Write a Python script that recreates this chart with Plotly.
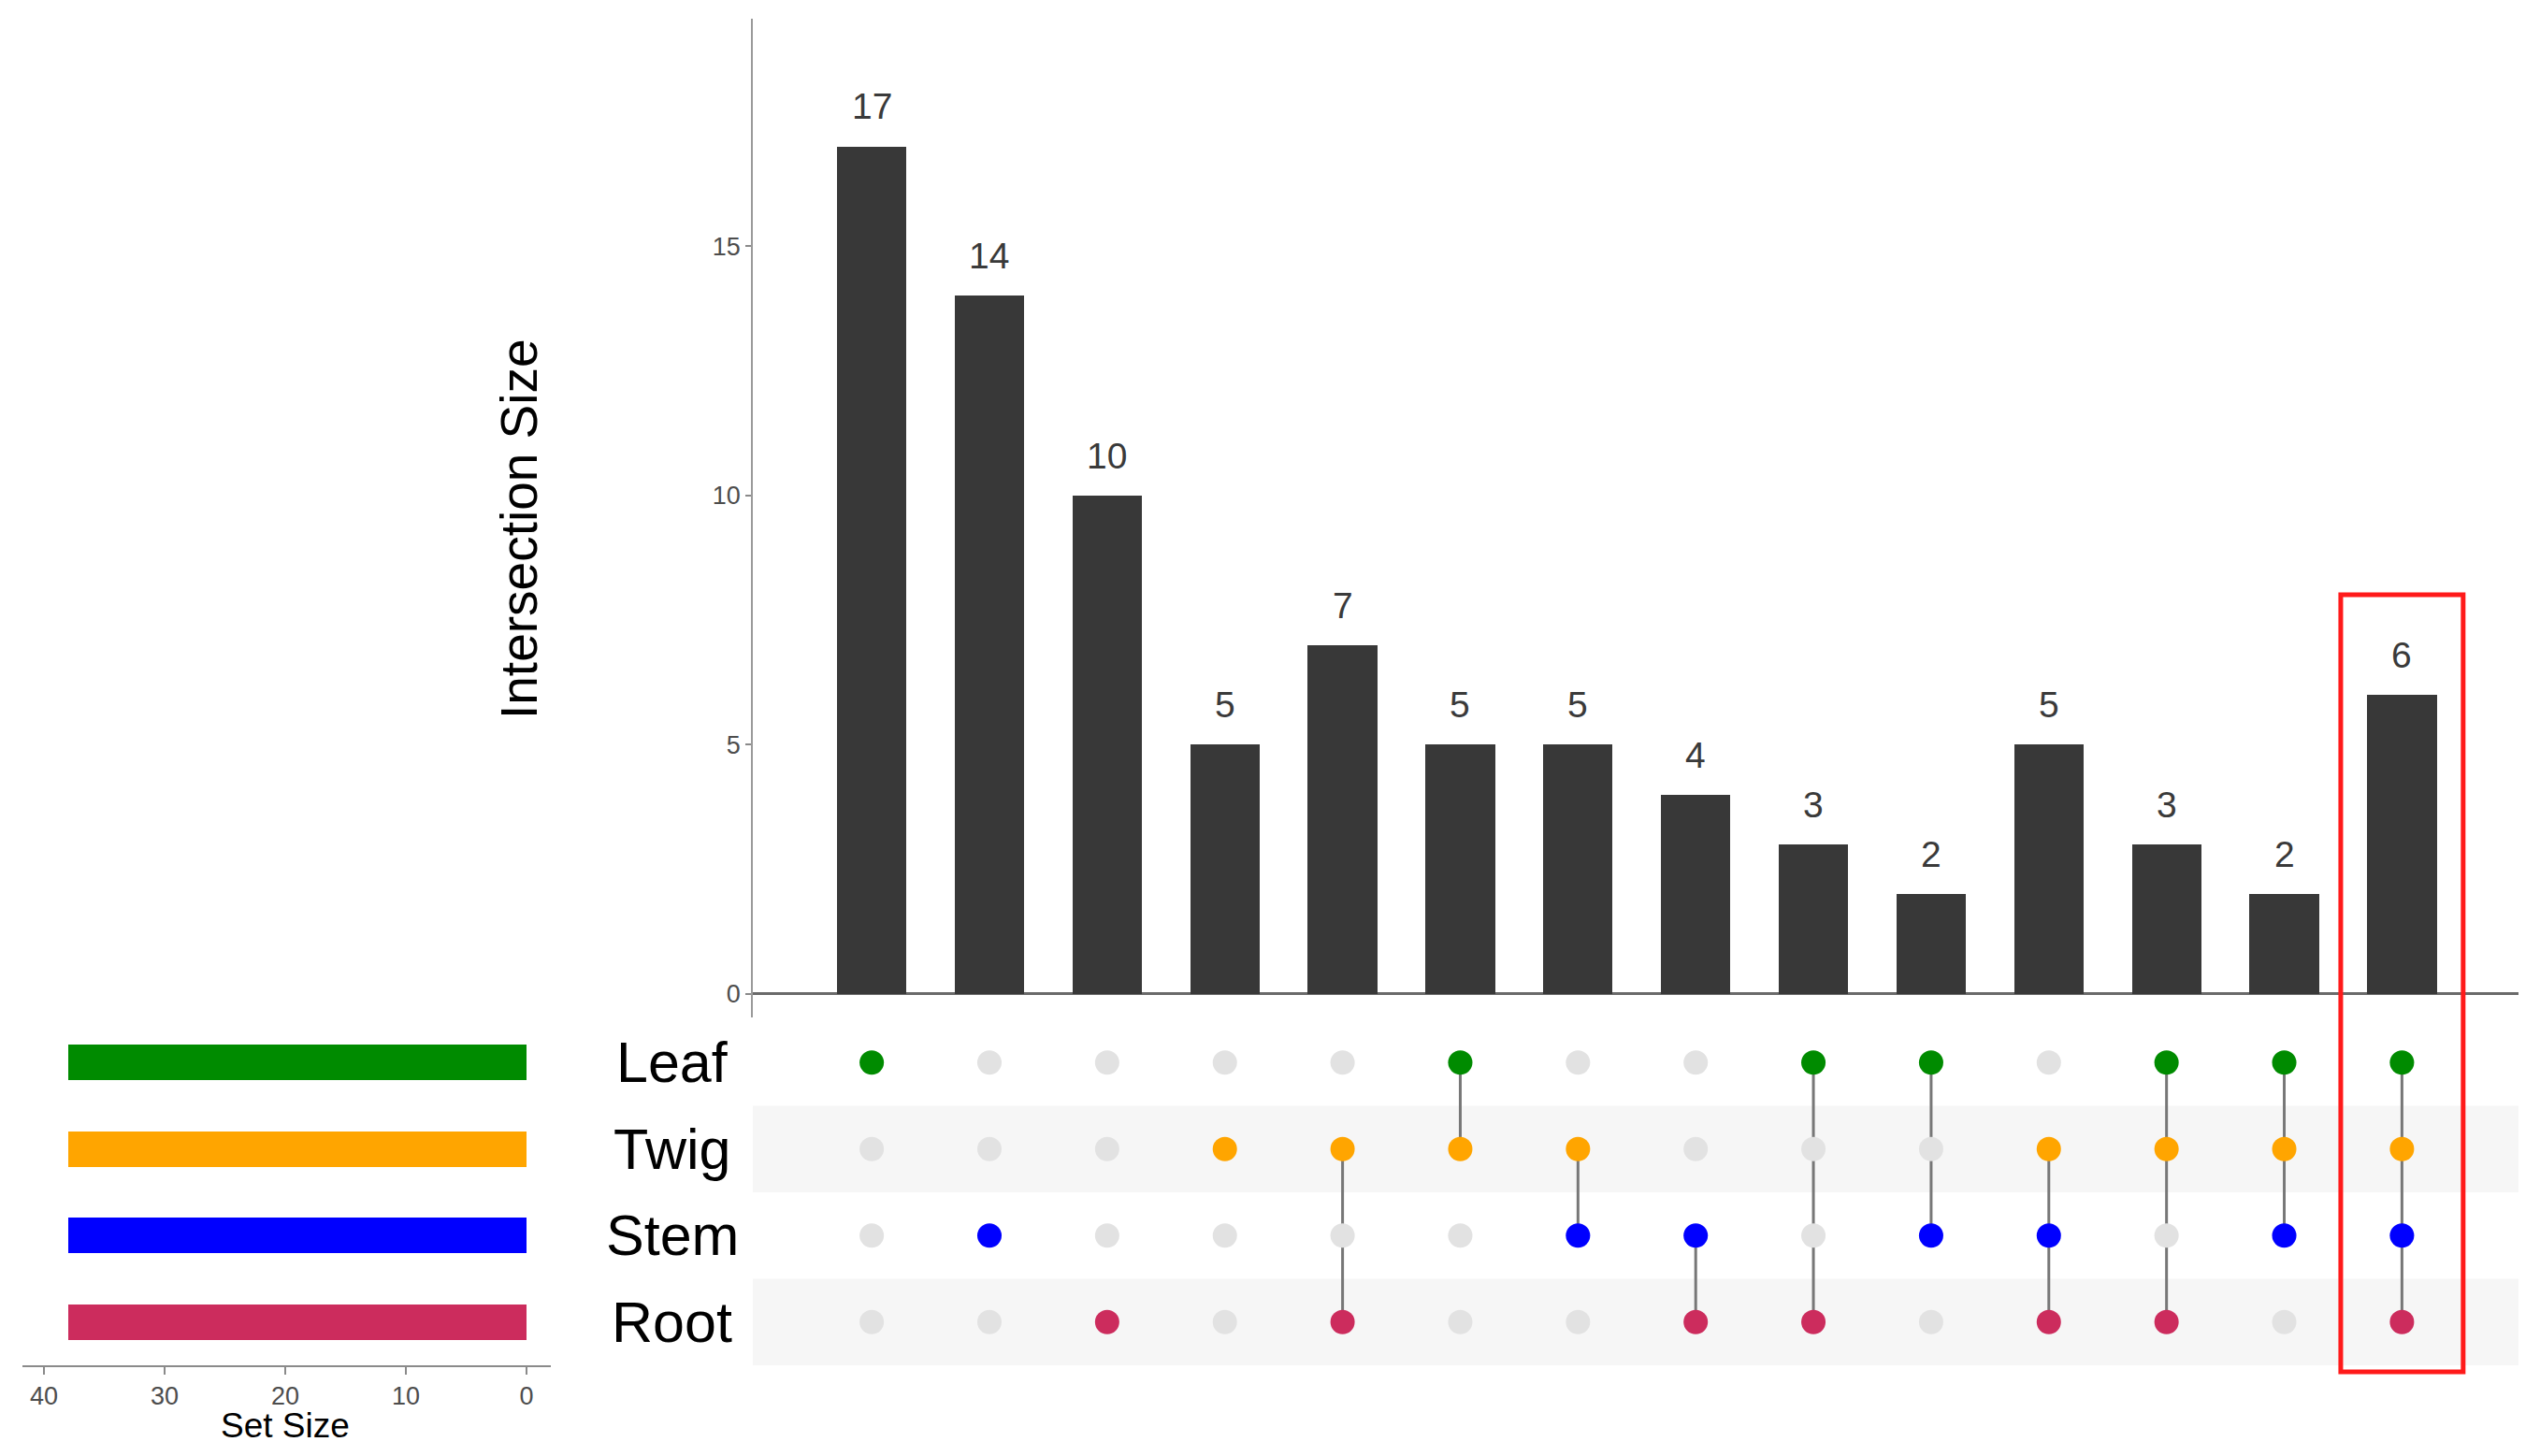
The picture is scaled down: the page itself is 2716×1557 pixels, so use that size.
import plotly.graph_objects as go

# ---------------- data ----------------
set_names = ["Leaf", "Twig", "Stem", "Root"]
set_colors = ["#008B00", "#FFA500", "#0000FF", "#CC2C5D"]
set_sizes = [38, 38, 38, 38]

intersection_sizes = [17, 14, 10, 5, 7, 5, 5, 4, 3, 2, 5, 3, 2, 6]
intersection_members = [
    ["Leaf"],
    ["Stem"],
    ["Root"],
    ["Twig"],
    ["Twig", "Root"],
    ["Leaf", "Twig"],
    ["Twig", "Stem"],
    ["Stem", "Root"],
    ["Leaf", "Root"],
    ["Leaf", "Stem"],
    ["Twig", "Stem", "Root"],
    ["Leaf", "Twig", "Root"],
    ["Leaf", "Twig", "Stem"],
    ["Leaf", "Twig", "Stem", "Root"],
]
highlight_index = 13

y_ticks = [0, 5, 10, 15]
set_ticks = [0, 10, 20, 30, 40]

# ---------------- geometry helpers ----------------
# page body has an 8px margin, so the figure is offset by 8px; compensate
OFF = 8
W, H = 2716 - 2 * OFF, 1557 - 2 * OFF
FONT = "Liberation Sans, Arial, sans-serif"
n = len(intersection_sizes)
cols = list(range(n))
row_of = {name: len(set_names) - 1 - k for k, name in enumerate(set_names)}  # Leaf on top


def px(x):
    return (x - OFF) / W


def py(y):
    return 1 - (y - OFF) / H


fig = go.Figure()

# ---- intersection bars ----
fig.add_trace(go.Bar(
    x=cols, y=intersection_sizes, width=0.59,
    marker=dict(color="#383838", line=dict(width=0)),
    xaxis="x", yaxis="y", showlegend=False, hoverinfo="x+y",
))

# ---- matrix connecting lines ----
lx, ly = [], []
for i, members in enumerate(intersection_members):
    if len(members) > 1:
        rows = [row_of[m] for m in members]
        lx += [i, i, None]
        ly += [min(rows), max(rows), None]
fig.add_trace(go.Scatter(
    x=lx, y=ly, mode="lines", line=dict(color="#777777", width=3),
    xaxis="x2", yaxis="y2", showlegend=False, hoverinfo="skip",
))

# ---- matrix dots ----
gx, gy, cx, cy, cc = [], [], [], [], []
for i, members in enumerate(intersection_members):
    for k, name in enumerate(set_names):
        if name in members:
            cx.append(i); cy.append(row_of[name]); cc.append(set_colors[k])
        else:
            gx.append(i); gy.append(row_of[name])
fig.add_trace(go.Scatter(
    x=gx, y=gy, mode="markers", marker=dict(color="#E2E2E2", size=26, line=dict(width=0)),
    xaxis="x2", yaxis="y2", showlegend=False, hoverinfo="skip",
))
fig.add_trace(go.Scatter(
    x=cx, y=cy, mode="markers", marker=dict(color=cc, size=26, line=dict(width=0)),
    xaxis="x2", yaxis="y2", showlegend=False, hoverinfo="skip",
))

# ---- set size bars ----
fig.add_trace(go.Bar(
    x=set_sizes, y=[row_of[s] for s in set_names], orientation="h", width=0.41,
    marker=dict(color=set_colors, line=dict(width=0)),
    xaxis="x3", yaxis="y3", showlegend=False, hoverinfo="x",
))

# ---------------- shapes ----------------
shapes = []
for name in set_names:
    r = row_of[name]
    if r % 2 == 0:  # Twig and Root stripes
        shapes.append(dict(type="rect", xref="x2 domain", yref="y2",
                           x0=0, x1=1, y0=r - 0.5, y1=r + 0.5,
                           fillcolor="#F6F6F6", line=dict(width=0), layer="below"))
shapes.append(dict(type="rect", xref="x", yref="paper",
                   x0=highlight_index - 0.52, x1=highlight_index + 0.52,
                   y0=py(1467), y1=py(636),
                   line=dict(color="#FF1A1A", width=5), fillcolor="rgba(0,0,0,0)"))

# ---------------- annotations ----------------
annotations = []
for i, v in enumerate(intersection_sizes):
    annotations.append(dict(x=i, y=v, xref="x", yref="y", text=str(v), showarrow=False,
                            yanchor="bottom", yshift=19,
                            font=dict(family=FONT, size=39, color="#3A3A3A")))
for name in set_names:
    annotations.append(dict(x=px(719), y=row_of[name], xref="paper", yref="y2", text=name,
                            showarrow=False, xanchor="center", yanchor="middle",
                            font=dict(family=FONT, size=61, color="#000000")))
annotations.append(dict(x=px(555), y=py(566), xref="paper", yref="paper",
                        text="Intersection Size", textangle=-90, showarrow=False,
                        xanchor="center", yanchor="middle",
                        font=dict(family=FONT, size=55, color="#000000")))
annotations.append(dict(x=px(305), y=py(1524), xref="paper", yref="paper",
                        text="Set Size", showarrow=False, xanchor="center", yanchor="middle",
                        font=dict(family=FONT, size=37, color="#000000")))

# ---------------- layout ----------------
fig.update_layout(
    width=W, height=H,
    margin=dict(l=0, r=0, t=0, b=0),
    paper_bgcolor="white", plot_bgcolor="rgba(0,0,0,0)",
    font=dict(family=FONT),
    bargap=0,
    shapes=shapes, annotations=annotations,
    xaxis=dict(domain=[px(805), px(2693)], range=[-1.01, 13.99], anchor="y",
               showticklabels=False, showgrid=False, zeroline=False, ticks="", showline=False),
    yaxis=dict(domain=[py(1088), py(20)], range=[-0.47, 19.56], anchor="x",
               tickvals=y_ticks, ticks="outside", ticklen=6, tickwidth=1.5, tickcolor="#8A8A8A",
               tickfont=dict(family=FONT, size=27, color="#4D4D4D"),
               showgrid=False, showline=True, linecolor="#9A9A9A", linewidth=1.5,
               zeroline=True, zerolinecolor="#6A6A6A", zerolinewidth=3),
    xaxis2=dict(domain=[px(805), px(2693)], range=[-1.01, 13.99], anchor="y2", matches="x",
                showticklabels=False, showgrid=False, zeroline=False, ticks="", showline=False),
    yaxis2=dict(domain=[py(1460), py(1090)], range=[-0.5, 3.5], anchor="x2",
                showticklabels=False, showgrid=False, zeroline=False, ticks="", showline=False),
    xaxis3=dict(domain=[px(24), px(589)], range=[41.78, -2.02], anchor="y3",
                tickvals=set_ticks, ticks="outside", ticklen=8, tickwidth=1.5, tickcolor="#8A8A8A",
                tickfont=dict(family=FONT, size=27, color="#4D4D4D"),
                showgrid=False, zeroline=False, showline=True, linecolor="#8A8A8A", linewidth=2),
    yaxis3=dict(domain=[py(1460), py(1090)], range=[-0.5, 3.5], anchor="x3",
                showticklabels=False, showgrid=False, zeroline=False, ticks="", showline=False),
)

fig.write_html("out.html")
